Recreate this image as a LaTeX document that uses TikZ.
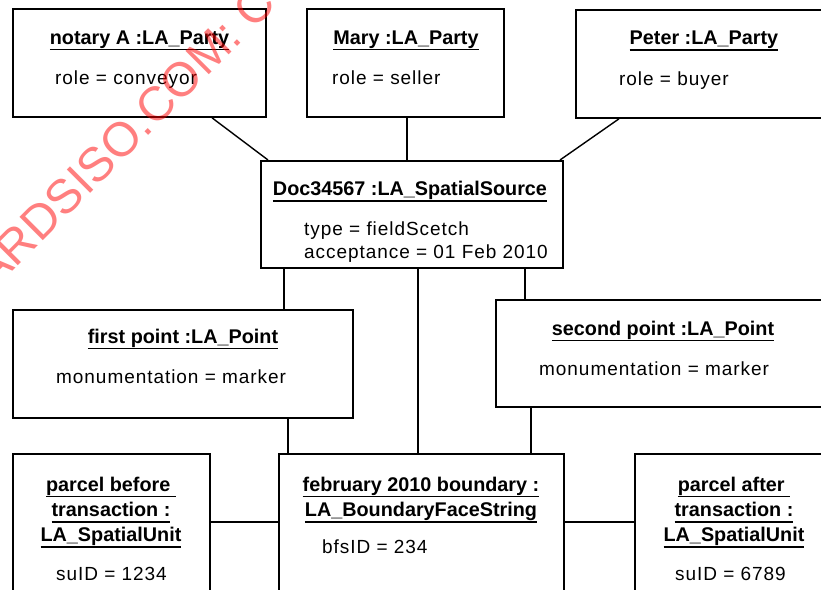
\documentclass[tikz,border=0pt]{standalone}
\usepackage{fontspec}
\setmainfont{Liberation Sans}
\newfontfamily\attrfont[LetterSpace=5]{Liberation Sans}
\newcommand{\ulx}[1]{\setbox0\hbox{#1}\rlap{\rule[-6.3pt]{\wd0}{1.6pt}}\box0}
\begin{document}
\begin{tikzpicture}[x=1pt,y=-1pt,
  box/.style={draw, line width=1.8pt, rectangle, anchor=north west, inner sep=0pt},
  conn/.style={line width=1.4pt},
  ttl/.style={anchor=base, inner sep=0pt, font=\fontsize{19.8}{24}\selectfont\bfseries},
  attr/.style={anchor=base west, inner sep=0pt, font=\fontsize{19}{22}\selectfont\attrfont},
  wmark/.style={rotate=45, anchor=base west, inner sep=0pt, text=red, text opacity=0.5, font=\fontsize{48}{48}\selectfont}]
\useasboundingbox (0,0) rectangle (821,589);
\clip (0,0) rectangle (821,589);
\fill[white] (0,0) rectangle (821,589);

% boxes
\node[box, minimum width=253pt, minimum height=108pt] (notary) at (12,8) {};
\node[box, minimum width=197pt, minimum height=108pt] (mary) at (306,8) {};
\node[box, minimum width=255pt, minimum height=108pt] (peter) at (575,9) {};
\node[box, minimum width=302pt, minimum height=107pt] (doc) at (260,160) {};
\node[box, minimum width=340pt, minimum height=108pt] (first) at (12,309) {};
\node[box, minimum width=335pt, minimum height=107pt] (second) at (495,299) {};
\node[box, minimum width=197pt, minimum height=170pt] (pbefore) at (12,453) {};
\node[box, minimum width=285pt, minimum height=170pt] (feb) at (278,453) {};
\node[box, minimum width=196pt, minimum height=170pt] (pafter) at (634,453) {};

% titles
\node[ttl] (tnotary) at (139.5,44) {\ulx{notary A :LA\_Party}};
\node[ttl] (tmary) at (406,44) {\ulx{Mary :LA\_Party}};
\node[ttl] (tpeter) at (704,44.5) {\ulx{Peter :LA\_Party}};
\node[ttl] (tdoc) at (410,195.5) {\ulx{Doc34567 :LA\_SpatialSource}};
\node[ttl] (tfirst) at (183,343) {\ulx{first point :LA\_Point}};
\node[ttl] (tsecond) at (663,335) {\ulx{second point :LA\_Point}};
\node[ttl] (tpb1) at (111,491) {\ulx{parcel before\ }};
\node[ttl] (tpb2) at (111,516.5) {\ulx{transaction :}};
\node[ttl] (tpb3) at (111,541.5) {\ulx{LA\_SpatialUnit}};
\node[ttl] (tfeb1) at (421,491) {\ulx{february 2010 boundary :}};
\node[ttl] (tfeb2) at (421,516.5) {\ulx{LA\_BoundaryFaceString}};
\node[ttl] (tpa1) at (734,491) {\ulx{parcel after\ }};
\node[ttl] (tpa2) at (734,516.5) {\ulx{transaction :}};
\node[ttl] (tpa3) at (734,541.5) {\ulx{LA\_SpatialUnit}};

% attributes
\node[attr] (anotary) at (55,84) {role = conveyor};
\node[attr] (amary) at (332,84) {role = seller};
\node[attr] (apeter) at (619,85) {role = buyer};
\node[attr] (adoc1) at (304,235.5) {type = fieldScetch};
\node[attr] (adoc2) at (304,258) {acceptance = 01 Feb 2010};
\node[attr] (afirst) at (56,383.5) {monumentation = marker};
\node[attr] (asecond) at (539,375) {monumentation = marker};
\node[attr] (apb) at (56,580) {suID = 1234};
\node[attr] (afeb) at (322,553.5) {bfsID = 234};
\node[attr] (apa) at (675,580) {suID = 6789};

% connector x / y positions
\coordinate (xa) at (212,0);
\coordinate (xb) at (268,0);
\coordinate (xm) at (407,0);
\coordinate (xc) at (619,0);
\coordinate (xd) at (560,0);
\coordinate (xe) at (284,0);
\coordinate (xf) at (418,0);
\coordinate (xg) at (525,0);
\coordinate (xh) at (288,0);
\coordinate (xi) at (531,0);
\coordinate (yh) at (0,522);

\draw[conn] (notary.south -| xa) -- (doc.north -| xb);
\draw[conn] (mary.south -| xm) -- (doc.north -| xm);
\draw[conn] (peter.south -| xc) -- (doc.north -| xd);
\draw[conn] (doc.south -| xe) -- (first.north -| xe);
\draw[conn] (doc.south -| xf) -- (feb.north -| xf);
\draw[conn] (doc.south -| xg) -- (second.north -| xg);
\draw[conn] (first.south -| xh) -- (feb.north -| xh);
\draw[conn] (second.south -| xi) -- (feb.north -| xi);
\draw[conn] (pbefore.east |- yh) -- (feb.west |- yh);
\draw[conn] (feb.east |- yh) -- (pafter.west |- yh);

% watermark
\node[wmark] (wm) at (-7,291) {ARDSISO.COM: C};
\end{tikzpicture}
\end{document}
